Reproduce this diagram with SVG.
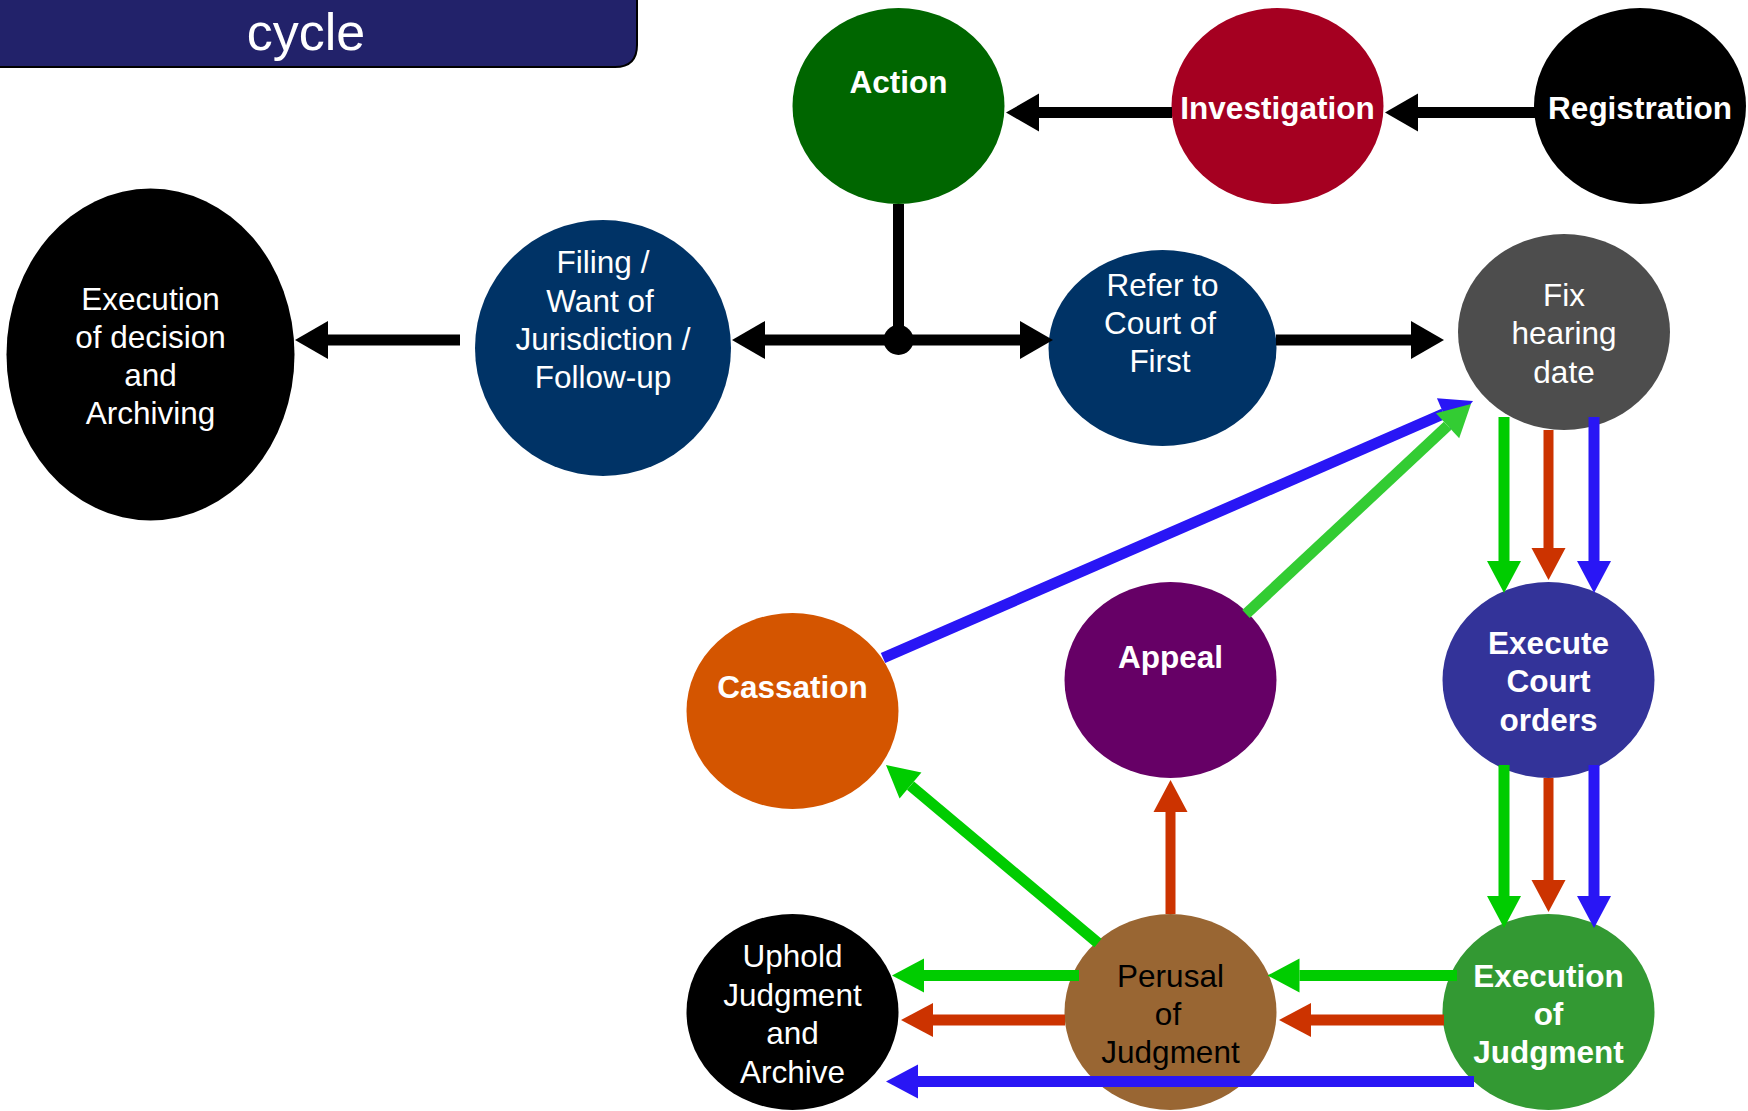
<svg xmlns="http://www.w3.org/2000/svg" width="1748" height="1111" viewBox="0 0 1748 1111">
<style>
.t{font-family:"Liberation Sans",Arial,sans-serif;font-size:31.5px;fill:#fff;text-anchor:middle}
.b{font-weight:bold}
.k{stroke:#000;stroke-width:11;fill:none}
.g{stroke:#00CC00;stroke-width:11;fill:none}
.lg{stroke:#33CC33;stroke-width:11;fill:none}
.r{stroke:#CC3300;stroke-width:11;fill:none}
.rv{stroke:#CC3300;stroke-width:10;fill:none}
.bl{stroke:#2916F5;stroke-width:11;fill:none}
</style>
<defs>
<marker id="ak" markerUnits="userSpaceOnUse" markerWidth="40" markerHeight="44" refX="0" refY="20" orient="auto" viewBox="0 0 40 40" overflow="visible"><path d="M0,1 L33,20 L0,39 z" fill="#000"/></marker>
<marker id="ag" markerUnits="userSpaceOnUse" markerWidth="40" markerHeight="40" refX="0" refY="20" orient="auto" viewBox="0 0 40 40" overflow="visible"><path d="M0,3 L32,20 L0,37 z" fill="#00CC00"/></marker>
<marker id="alg" markerUnits="userSpaceOnUse" markerWidth="40" markerHeight="40" refX="0" refY="20" orient="auto" viewBox="0 0 40 40" overflow="visible"><path d="M0,3 L32,20 L0,37 z" fill="#33CC33"/></marker>
<marker id="ar" markerUnits="userSpaceOnUse" markerWidth="40" markerHeight="40" refX="0" refY="20" orient="auto" viewBox="0 0 40 40" overflow="visible"><path d="M0,3 L32,20 L0,37 z" fill="#CC3300"/></marker>
<marker id="ab" markerUnits="userSpaceOnUse" markerWidth="40" markerHeight="40" refX="0" refY="20" orient="auto" viewBox="0 0 40 40" overflow="visible"><path d="M0,3 L32,20 L0,37 z" fill="#2916F5"/></marker>
</defs>
<rect width="1748" height="1111" fill="#fff"/>
<g id="title">
<path d="M-3,-3 H637 V45 Q637,67 615,67 H-3 Z" fill="#22226A" stroke="#000" stroke-width="2"/>
<text x="306" y="50" style="font-family:'Liberation Sans',Arial,sans-serif;font-size:52px;fill:#fff;text-anchor:middle">cycle</text>
</g>
<g id="nodes">
<g id="n-action"><ellipse cx="898.5" cy="106" rx="106" ry="98" fill="#006600"/><text class="t b" x="898.5" y="92.5">Action</text></g>
<g id="n-investigation"><ellipse cx="1277.5" cy="106" rx="106" ry="98" fill="#A50021"/><text class="t b" x="1277.5" y="119">Investigation</text></g>
<g id="n-registration"><ellipse cx="1640" cy="106" rx="106" ry="98" fill="#000"/><text class="t b" x="1640" y="119">Registration</text></g>
<g id="n-execdecision"><ellipse cx="150.5" cy="354.5" rx="144" ry="166" fill="#000"/>
<text class="t" x="150.5" y="310">Execution</text><text class="t" x="150.5" y="348">of decision</text><text class="t" x="150.5" y="386">and</text><text class="t" x="150.5" y="424">Archiving</text></g>
<g id="n-filing"><ellipse cx="603" cy="348" rx="128" ry="128" fill="#003366"/>
<text class="t" x="603" y="273">Filing /</text><text class="t" x="600" y="312">Want of</text><text class="t" x="603" y="350">Jurisdiction /</text><text class="t" x="603" y="388">Follow-up</text></g>
<g id="n-refer"><ellipse cx="1162.5" cy="348" rx="114" ry="98" fill="#003366"/>
<text class="t" x="1162.5" y="296">Refer to</text><text class="t" x="1160" y="334">Court of</text><text class="t" x="1160" y="372">First</text></g>
<g id="n-fix"><ellipse cx="1564" cy="332" rx="106" ry="98" fill="#4D4D4D"/>
<text class="t" x="1564" y="306">Fix</text><text class="t" x="1564" y="344">hearing</text><text class="t" x="1564" y="383">date</text></g>
<g id="n-cassation"><ellipse cx="792.5" cy="711" rx="106" ry="98" fill="#D45500"/><text class="t b" x="792.5" y="698">Cassation</text></g>
<g id="n-appeal"><ellipse cx="1170.5" cy="680" rx="106" ry="98" fill="#660066"/><text class="t b" x="1170.5" y="668">Appeal</text></g>
<g id="n-execute"><ellipse cx="1548.5" cy="680" rx="106" ry="98" fill="#333399"/>
<text class="t b" x="1548.5" y="654">Execute</text><text class="t b" x="1548.5" y="692">Court</text><text class="t b" x="1548.5" y="731">orders</text></g>
<g id="n-uphold"><ellipse cx="792.5" cy="1012" rx="106" ry="98" fill="#000"/>
<text class="t" x="792.5" y="967">Uphold</text><text class="t" x="792.5" y="1006">Judgment</text><text class="t" x="792.5" y="1044">and</text><text class="t" x="792.5" y="1083">Archive</text></g>
<g id="n-perusal"><ellipse cx="1170.5" cy="1012" rx="106" ry="98" fill="#996633"/>
<text class="t" x="1170.5" y="987" style="fill:#000">Perusal</text><text class="t" x="1168" y="1025" style="fill:#000">of</text><text class="t" x="1170.5" y="1063" style="fill:#000">Judgment</text></g>
<g id="n-execjudgment"><ellipse cx="1548.5" cy="1012" rx="106" ry="98" fill="#339933"/>
<text class="t b" x="1548.5" y="987">Execution</text><text class="t b" x="1548.5" y="1025">of</text><text class="t b" x="1548.5" y="1063">Judgment</text></g>
</g>
<g id="connectors">
<path class="k" d="M1535,112.6 L1418,112.6" marker-end="url(#ak)"/>
<path class="k" d="M1172,112.6 L1039,112.6" marker-end="url(#ak)"/>
<path class="k" d="M898.5,204 L898.5,340"/>
<path class="k" d="M898.5,340 L765,340" marker-end="url(#ak)"/>
<path class="k" d="M898.5,340 L1020,340" marker-end="url(#ak)"/>
<circle cx="898.5" cy="340" r="15" fill="#000"/>
<path class="k" d="M460,340 L328,340" marker-end="url(#ak)"/>
<path class="k" d="M1276,340 L1411,340" marker-end="url(#ak)"/>
<path class="bl" d="M883,658 L1443.7,413.8" marker-end="url(#ab)"/>
<path class="lg" d="M1246,614 L1447.6,425.8" marker-end="url(#alg)"/>
<path class="g" d="M1504,417 L1504,561" marker-end="url(#ag)"/>
<path class="rv" d="M1548.5,430 L1548.5,548" marker-end="url(#ar)"/>
<path class="bl" d="M1594,417 L1594,561" marker-end="url(#ab)"/>
<path class="g" d="M1504,765 L1504,896" marker-end="url(#ag)"/>
<path class="rv" d="M1548.5,778 L1548.5,880" marker-end="url(#ar)"/>
<path class="bl" d="M1594,765 L1594,896" marker-end="url(#ab)"/>
<path class="rv" d="M1170.5,914 L1170.5,812" marker-end="url(#ar)"/>
<path class="g" d="M1098,943 L910.5,785.6" marker-end="url(#ag)"/>
<path class="g" d="M1457,975.5 L1299.5,975.5" marker-end="url(#ag)"/>
<path class="r" d="M1444,1020 L1311,1020" marker-end="url(#ar)"/>
<path class="g" d="M1079,975.5 L924,975.5" marker-end="url(#ag)"/>
<path class="r" d="M1065,1020 L933,1020" marker-end="url(#ar)"/>
<path class="bl" d="M1474,1081.5 L918,1081.5" marker-end="url(#ab)"/>
</g>
</svg>
